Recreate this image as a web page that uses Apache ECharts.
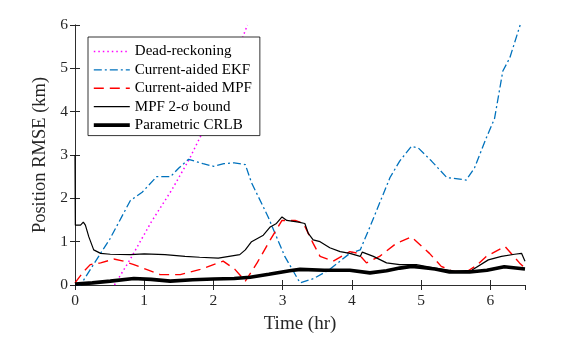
<!DOCTYPE html>
<html>
<head>
<meta charset="utf-8">
<script src="https://cdn.jsdelivr.net/npm/echarts@6/dist/echarts.min.js"></script>
<style>
  html, body { margin: 0; padding: 0; background: #fff; }
  #chart { width: 581px; height: 339px; }
</style>
</head>
<body>
<div id="chart"></div>
<script>
// 时间 (hr) 与 RMSE (km) 数据
const drTime = [0.57, 0.8, 1.1, 1.4, 1.65, 1.85, 2.1, 2.3, 2.49]
const drVal = [0, 0.6, 1.45, 2.2, 2.9, 3.55, 4.45, 5.2, 6.0]

const ekfTime = [0, 0.08, 0.37, 0.5, 0.8, 0.97, 1.18, 1.38, 1.5, 1.64, 1.85, 2.0, 2.15, 2.3, 2.46, 2.55, 2.79, 3.03, 3.25, 3.45, 3.68, 3.97, 4.12, 4.26, 4.55, 4.69, 4.86, 4.96, 5.15, 5.37, 5.53, 5.65, 5.77, 5.94, 6.06, 6.18, 6.28, 6.43]
const ekfVal = [0, 0, 0.73, 1.05, 1.95, 2.14, 2.5, 2.5, 2.7, 2.9, 2.8, 2.74, 2.8, 2.82, 2.78, 2.36, 1.57, 0.66, 0.05, 0.15, 0.36, 0.73, 0.81, 1.34, 2.48, 2.86, 3.2, 3.16, 2.86, 2.48, 2.45, 2.42, 2.7, 3.39, 3.84, 4.94, 5.24, 6.0]

const mpfTime = [0, 0.12, 0.22, 0.37, 0.56, 0.7, 0.85, 1.05, 1.23, 1.52, 1.81, 2.14, 2.31, 2.46, 2.63, 2.82, 2.99, 3.18, 3.3, 3.44, 3.54, 3.73, 3.97, 4.09, 4.21, 4.4, 4.64, 4.86, 5.12, 5.29, 5.45, 5.65, 5.8, 5.94, 6.21, 6.42, 6.5]
const mpfVal = [0.05, 0.3, 0.47, 0.51, 0.6, 0.55, 0.47, 0.35, 0.24, 0.24, 0.36, 0.55, 0.36, 0.09, 0.51, 1.04, 1.49, 1.49, 1.42, 0.96, 0.66, 0.55, 0.77, 0.73, 0.51, 0.66, 0.96, 1.11, 0.73, 0.43, 0.32, 0.3, 0.45, 0.66, 0.89, 0.51, 0.39]

const boundTime = [0, 0.005, 0.08, 0.12, 0.15, 0.2, 0.27, 0.37, 0.51, 0.8, 1.0, 1.3, 1.59, 1.8, 2.07, 2.38, 2.46, 2.55, 2.72, 2.82, 2.91, 2.99, 3.06, 3.23, 3.32, 3.37, 3.44, 3.54, 3.68, 3.83, 3.97, 4.12, 4.15, 4.31, 4.5, 4.69, 4.93, 5.2, 5.49, 5.73, 5.97, 6.16, 6.35, 6.45, 6.5]
const boundVal = [3.0, 1.38, 1.38, 1.45, 1.38, 1.11, 0.81, 0.73, 0.71, 0.7, 0.72, 0.7, 0.66, 0.64, 0.62, 0.7, 0.81, 1.0, 1.15, 1.34, 1.42, 1.57, 1.49, 1.45, 1.42, 1.19, 1.04, 1.0, 0.86, 0.77, 0.73, 0.66, 0.76, 0.66, 0.51, 0.47, 0.47, 0.39, 0.32, 0.34, 0.58, 0.66, 0.71, 0.73, 0.55]

const crlbTime = [0, 0.25, 0.51, 0.85, 1.1, 1.375, 1.7, 2.0, 2.3, 2.53, 2.8, 3.1, 3.25, 3.6, 3.97, 4.26, 4.5, 4.69, 4.86, 4.98, 5.2, 5.41, 5.7, 5.95, 6.2, 6.5]
const crlbVal = [0.02, 0.05, 0.09, 0.15, 0.13, 0.09, 0.12, 0.14, 0.15, 0.18, 0.25, 0.33, 0.36, 0.34, 0.34, 0.28, 0.33, 0.39, 0.43, 0.41, 0.37, 0.3, 0.3, 0.34, 0.42, 0.37]

const seriesNames = ['Dead-reckoning', 'Current-aided EKF', 'Current-aided MPF', 'MPF 2-σ bound', 'Parametric CRLB']
const xTicks = [0, 1, 2, 3, 4, 5, 6]
const yTicks = [0, 1, 2, 3, 4, 5, 6]

const FONT = 'Liberation Serif'
const AXIS_COLOR = '#262626'

// 线型: 颜色, 宽度, 虚线样式
const styles = [
  { color: '#ff00ff', width: 1.5, type: [1.5, 3] },
  { color: '#0072bd', width: 1.3, type: [8, 3, 2, 3] },
  { color: '#ff0000', width: 1.4, type: [10, 6] },
  { color: '#000000', width: 1.2, type: 'solid' },
  { color: '#000000', width: 3.6, type: 'solid' }
]

function zip(ts, vs) {
  return ts.map((t, i) => [t, vs[i]])
}

function makeLine(idx, ts, vs) {
  const s = styles[idx]
  return {
    name: seriesNames[idx],
    type: 'line',
    data: zip(ts, vs),
    symbol: 'none',
    showSymbol: false,
    clip: true,
    animation: false,
    lineStyle: { color: s.color, width: s.width, type: s.type },
    itemStyle: { color: s.color }
  }
}

const chart = echarts.init(document.getElementById('chart'))

const option = {
  backgroundColor: '#fff',
  animation: false,
  grid: { left: 75, top: 25, width: 450, height: 264, containLabel: false },
  legend: {
    orient: 'vertical',
    left: 88,
    top: 37,
    padding: [7, 8, 3, 4],
    itemWidth: 36,
    itemHeight: 14,
    itemGap: 3.4,
    backgroundColor: '#fff',
    borderColor: '#000',
    borderWidth: 0.8,
    borderRadius: 0,
    itemStyle: { opacity: 0 },
    textStyle: { fontFamily: FONT, fontSize: 15, color: '#000', lineHeight: 14 },
    data: seriesNames.map((n, i) => ({
      name: n,
      lineStyle: { color: styles[i].color, width: styles[i].width, type: styles[i].type }
    }))
  },
  xAxis: [{
    type: 'value',
    min: 0,
    max: 6.5,
    interval: 1,
    name: 'Time (hr)',
    nameLocation: 'middle',
    nameGap: 30,
    nameTextStyle: { fontFamily: FONT, fontSize: 19, color: AXIS_COLOR },
    axisLine: { lineStyle: { color: AXIS_COLOR, width: 0.8 } },
    axisTick: { inside: true, length: 5, lineStyle: { color: AXIS_COLOR } },
    axisLabel: {
      fontFamily: FONT, fontSize: 15.5, color: AXIS_COLOR, margin: 8,
      showMaxLabel: false,
      formatter: v => xTicks.indexOf(v) >= 0 ? String(v) : ''
    },
    splitLine: { show: false }
  }, {
    type: 'value',
    position: 'top',
    min: 0,
    max: 6.5,
    interval: 1,
    axisLine: { lineStyle: { color: AXIS_COLOR, width: 0.8 } },
    axisTick: { inside: true, length: 5, lineStyle: { color: AXIS_COLOR } },
    axisLabel: { show: false },
    splitLine: { show: false }
  }],
  yAxis: [{
    type: 'value',
    min: 0,
    max: 6,
    interval: 1,
    name: 'Position RMSE (km)',
    nameLocation: 'middle',
    nameGap: 19,
    nameTextStyle: { fontFamily: FONT, fontSize: 18.5, color: AXIS_COLOR },
    axisLine: { show: true, lineStyle: { color: AXIS_COLOR, width: 0.8 } },
    axisTick: { show: true, inside: true, length: 5, lineStyle: { color: AXIS_COLOR } },
    axisLabel: {
      fontFamily: FONT, fontSize: 15.5, color: AXIS_COLOR, margin: 7,
      formatter: v => yTicks.indexOf(v) >= 0 ? String(v) : ''
    },
    splitLine: { show: false }
  }, {
    type: 'value',
    position: 'right',
    min: 0,
    max: 6,
    interval: 1,
    axisLine: { show: true, lineStyle: { color: AXIS_COLOR, width: 0.8 } },
    axisTick: { show: true, inside: true, length: 5, lineStyle: { color: AXIS_COLOR } },
    axisLabel: { show: false },
    splitLine: { show: false }
  }],
  series: [
    makeLine(0, drTime, drVal),
    makeLine(1, ekfTime, ekfVal),
    makeLine(2, mpfTime, mpfVal),
    makeLine(3, boundTime, boundVal),
    makeLine(4, crlbTime, crlbVal)
  ]
}

chart.setOption(option)
</script>
</body>
</html>
